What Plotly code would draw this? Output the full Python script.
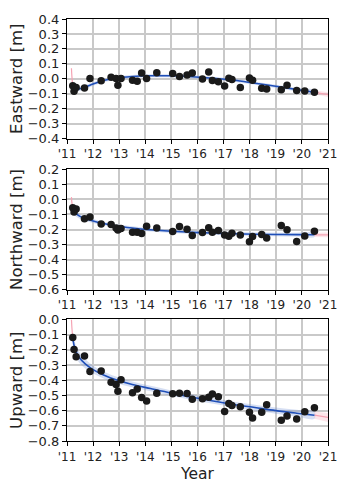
import plotly.graph_objects as go
from plotly.subplots import make_subplots

# Observation epochs (decimal years)
obs_years = [2011.22, 2011.27, 2011.35, 2011.67, 2011.88, 2012.31, 2012.69, 2012.88,
             2012.95, 2013.07, 2013.51, 2013.69, 2013.86, 2014.05, 2014.44, 2015.05,
             2015.31, 2015.60, 2015.80, 2016.19, 2016.43, 2016.57, 2016.80, 2017.04,
             2017.20, 2017.32, 2017.64, 2017.99, 2018.11, 2018.46, 2018.65, 2019.21,
             2019.43, 2019.80, 2020.11, 2020.48]

east_obs = [-0.047, -0.083, -0.058, -0.062, 0.002, -0.013, 0.011, 0.002,
            -0.043, 0.002, -0.009, -0.017, 0.038, 0.002, 0.040, 0.036,
            0.015, 0.026, 0.038, -0.002, 0.045, -0.011, -0.019, -0.049,
            0.004, -0.004, -0.058, 0.006, -0.009, -0.064, -0.068, -0.073,
            -0.043, -0.079, -0.081, -0.090]

north_obs = [-0.055, -0.083, -0.064, -0.129, -0.117, -0.163, -0.167, -0.190,
             -0.203, -0.193, -0.218, -0.218, -0.226, -0.178, -0.190, -0.214,
             -0.180, -0.199, -0.239, -0.220, -0.188, -0.218, -0.207, -0.237,
             -0.245, -0.224, -0.237, -0.281, -0.247, -0.233, -0.256, -0.174,
             -0.201, -0.279, -0.243, -0.211]

up_obs = [-0.119, -0.198, -0.246, -0.240, -0.343, -0.340, -0.414, -0.428,
          -0.472, -0.397, -0.483, -0.457, -0.514, -0.537, -0.485, -0.489,
          -0.485, -0.487, -0.526, -0.522, -0.512, -0.491, -0.508, -0.606,
          -0.554, -0.566, -0.574, -0.610, -0.648, -0.610, -0.562, -0.664,
          -0.635, -0.656, -0.608, -0.581]

# Fitted trajectory within the observation span
fit_years = [2011.22, 2011.30, 2011.45, 2011.70, 2012.00, 2012.40, 2012.85, 2013.50,
             2014.20, 2015.00, 2015.80, 2016.60, 2017.40, 2018.20, 2019.00, 2019.80,
             2020.48]
east_fit = [-0.050, -0.066, -0.068, -0.055, -0.035, -0.012, 0.004, 0.015,
            0.020, 0.020, 0.014, 0.004, -0.010, -0.030, -0.050, -0.072, -0.090]
east_band = [0.030, 0.020, 0.016, 0.014, 0.012, 0.011, 0.010, 0.010,
             0.010, 0.010, 0.010, 0.010, 0.010, 0.010, 0.011, 0.012, 0.014]
north_fit = [-0.055, -0.085, -0.108, -0.128, -0.143, -0.160, -0.175, -0.190,
             -0.202, -0.212, -0.219, -0.224, -0.228, -0.231, -0.233, -0.234, -0.235]
north_band = [0.030, 0.022, 0.018, 0.015, 0.013, 0.012, 0.011, 0.011,
              0.011, 0.011, 0.011, 0.011, 0.011, 0.011, 0.012, 0.013, 0.014]
up_fit = [-0.125, -0.190, -0.245, -0.292, -0.330, -0.365, -0.395, -0.428,
          -0.455, -0.485, -0.512, -0.537, -0.560, -0.580, -0.600, -0.617, -0.630]
up_band = [0.050, 0.040, 0.035, 0.030, 0.026, 0.023, 0.021, 0.019,
           0.018, 0.018, 0.018, 0.018, 0.018, 0.019, 0.020, 0.022, 0.024]

# Extrapolation of the model before the first and after the last epoch
pre_years = [2011.17, 2011.19, 2011.22]
east_pre = [0.070, 0.010, -0.050]
north_pre = [0.015, -0.025, -0.055]
up_pre = [0.000, -0.060, -0.125]

post_years = [2020.48, 2021.0]
east_post = [-0.090, -0.106]
east_post_band = [0.014, 0.016]
north_post = [-0.235, -0.236]
north_post_band = [0.014, 0.016]
up_post = [-0.630, -0.645]
up_post_band = [0.024, 0.030]

year_ticks = list(range(2011, 2022))
year_labels = ["'%02d" % (y % 100) for y in year_ticks]

panels = [
    ("Eastward [m]", east_obs, east_fit, east_band, east_pre, east_post, east_post_band,
     [-0.4, 0.4], [-0.4, -0.3, -0.2, -0.1, 0.0, 0.1, 0.2, 0.3, 0.4]),
    ("Northward [m]", north_obs, north_fit, north_band, north_pre, north_post, north_post_band,
     [-0.6, 0.2], [-0.6, -0.5, -0.4, -0.3, -0.2, -0.1, 0.0, 0.1, 0.2]),
    ("Upward [m]", up_obs, up_fit, up_band, up_pre, up_post, up_post_band,
     [-0.8, 0.0], [-0.8, -0.7, -0.6, -0.5, -0.4, -0.3, -0.2, -0.1, 0.0]),
]

FONT = "DejaVu Sans"
BLUE = "#1f4fb8"
BLUE_FILL = "rgba(120,150,215,0.30)"
PINK = "#f5a3b3"
PINK_FILL = "rgba(250,180,195,0.35)"
GRID = "#c9c9c9"

fig = make_subplots(rows=3, cols=1)
domains = [[0.7166, 1.0], [0.3583, 0.644], [0.0, 0.288]]


def fmt(v):
    s = "%.1f" % v
    if s == "-0.0":
        s = "0.0"
    return s.replace("-", "\u2212")


for i, (title, obs, fit, band, pre, post, post_band, yr, yt) in enumerate(panels):
    r = i + 1
    upper = [f + b for f, b in zip(fit, band)]
    lower = [f - b for f, b in zip(fit, band)]
    pu = [f + b for f, b in zip(post, post_band)]
    pl = [f - b for f, b in zip(post, post_band)]
    # confidence band of the fit
    fig.add_trace(go.Scatter(x=fit_years + fit_years[::-1], y=upper + lower[::-1],
                             fill="toself", fillcolor=BLUE_FILL, line=dict(width=0),
                             mode="lines", hoverinfo="skip", line_shape="spline",
                             showlegend=False), row=r, col=1)
    fig.add_trace(go.Scatter(x=post_years + post_years[::-1], y=pu + pl[::-1],
                             fill="toself", fillcolor=PINK_FILL, line=dict(width=0),
                             mode="lines", hoverinfo="skip", showlegend=False), row=r, col=1)
    fig.add_trace(go.Scatter(x=pre_years, y=pre, mode="lines", line=dict(color=PINK, width=1.2),
                             line_shape="spline", showlegend=False), row=r, col=1)
    fig.add_trace(go.Scatter(x=post_years, y=post, mode="lines", line=dict(color=PINK, width=1.2),
                             showlegend=False), row=r, col=1)
    fig.add_trace(go.Scatter(x=fit_years, y=fit, mode="lines", line=dict(color=BLUE, width=1.6),
                             line_shape="spline", showlegend=False), row=r, col=1)
    fig.add_trace(go.Scatter(x=obs_years, y=obs, mode="markers",
                             marker=dict(color="#1a1a1a", size=7.5), showlegend=False), row=r, col=1)

    xa = "xaxis" if r == 1 else "xaxis%d" % r
    ya = "yaxis" if r == 1 else "yaxis%d" % r
    fig.layout[xa].update(
        range=[2011, 2021], tickvals=year_ticks, ticktext=year_labels,
        showgrid=True, gridcolor=GRID, gridwidth=1.5, zeroline=False,
        showline=True, linecolor="black", linewidth=1.2, mirror=True,
        ticks="outside", ticklen=4, tickcolor="black", tickwidth=1,
        tickfont=dict(family=FONT, size=12, color="#222"),
    )
    fig.layout[ya].update(
        domain=domains[i], range=yr, tickvals=yt, ticktext=[fmt(v) for v in yt],
        showgrid=True, gridcolor=GRID, gridwidth=1.5, zeroline=False,
        showline=True, linecolor="black", linewidth=1.2, mirror=True,
        ticks="outside", ticklen=4, tickcolor="black", tickwidth=1,
        tickfont=dict(family=FONT, size=13, color="#222"),
        title=dict(text=title, font=dict(family=FONT, size=16.5, color="#222"), standoff=0),
    )

fig.layout["xaxis3"].title = dict(text="Year", font=dict(family=FONT, size=15.5, color="#222"),
                                  standoff=5)

fig.update_layout(
    width=349, height=491,
    margin=dict(l=67, r=12, t=12, b=38),
    plot_bgcolor="white", paper_bgcolor="white",
)

fig.write_html("out.html")
